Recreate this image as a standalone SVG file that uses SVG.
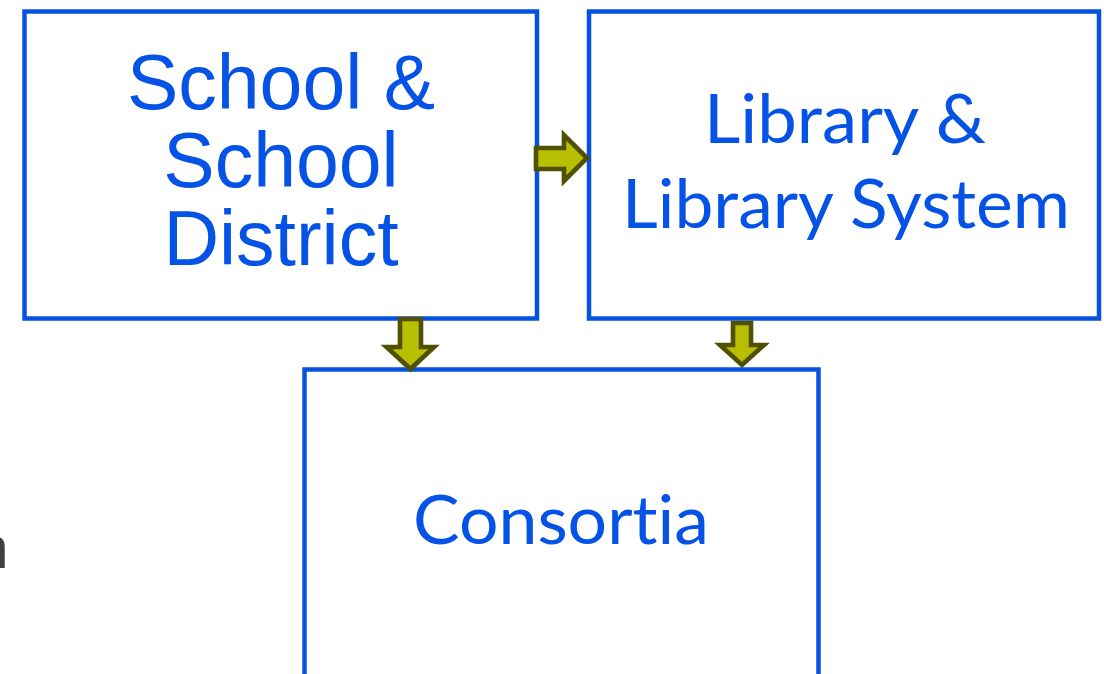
<svg xmlns="http://www.w3.org/2000/svg" width="1104" height="674" viewBox="0 0 1104 674">
<defs>
<style>
.box{fill:#ffffff;stroke:#0552E0;stroke-width:4.5}
.arrow{fill:#B8BE00;stroke:#4F5000;stroke-width:4.6;stroke-linejoin:miter}
.t1{font-family:"Liberation Sans",Arial,sans-serif;font-size:77px;fill:#0552E6;text-anchor:middle}
.t2{font-family:Lato,"Open Sans",sans-serif;font-size:67px;fill:#0552E6;text-anchor:middle;font-variant-ligatures:none;font-feature-settings:"liga" 0}
.frag{font-family:"Liberation Sans",Arial,sans-serif;font-size:60px;fill:#404040}
</style>
</defs>
<rect width="1104" height="674" fill="#ffffff"/>
<text class="frag" x="-24.7" y="568">n</text>
<g id="node-school">
<rect class="box" x="24.5" y="11.5" width="512.5" height="307"/>
<text class="t1" x="281" y="109">School &amp;</text>
<text class="t1" x="281" y="187">School</text>
<text class="t1" x="281" y="265">District</text>
</g>
<g id="node-library">
<rect class="box" x="589" y="11.5" width="510" height="307"/>
<text class="t2" x="845" y="143.3" textLength="282" lengthAdjust="spacingAndGlyphs">Library &amp;</text>
<text class="t2" x="846" y="228.3" textLength="448" lengthAdjust="spacingAndGlyphs">Library System</text>
</g>
<g id="node-consortia">
<rect class="box" x="304.5" y="369.5" width="514" height="340"/>
<text class="t2" x="561" y="544" textLength="296" lengthAdjust="spacingAndGlyphs">Consortia</text>
</g>
<g id="connectors">
<polygon class="arrow" points="536,148 564,148 564,135 587,158 564,181 564,169 536,169"/>
<polygon class="arrow" points="400,319 421,319 421,347 434,347 410.5,369 386.5,347 400,347"/>
<polygon class="arrow" points="733,323 751,323 751,345 764,345 742,365 720,345 733,345"/>
</g>
</svg>
